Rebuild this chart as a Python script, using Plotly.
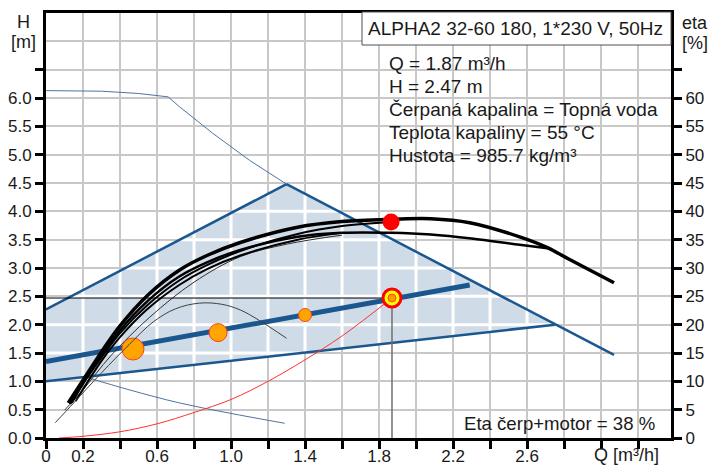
import numpy as np
import plotly.graph_objects as go

# ---------------- data ----------------
# pump curves (Q [m3/h], H [m])
pumpA_q = [0.12, 0.2, 0.3, 0.4, 0.55, 0.72, 0.87, 1.05, 1.36, 1.6, 1.87, 2.08, 2.29, 2.56, 2.71, 2.83, 3.07]
pumpA_h = [0.62, 1.02, 1.52, 1.98, 2.52, 2.96, 3.22, 3.45, 3.72, 3.82, 3.86, 3.87, 3.8, 3.55, 3.36, 3.15, 2.74]
pumpB_q = [0.13, 0.2, 0.3, 0.4, 0.55, 0.72, 0.87, 1.05, 1.36, 1.6, 1.87, 2.08, 2.3, 2.56, 2.71]
pumpB_h = [0.6, 0.98, 1.45, 1.9, 2.42, 2.85, 3.1, 3.32, 3.55, 3.62, 3.62, 3.59, 3.52, 3.41, 3.35]
pumpC_q = [0.14, 0.2, 0.3, 0.4, 0.55, 0.72, 0.87, 1.05, 1.36, 1.6, 1.87]
pumpC_h = [0.62, 0.95, 1.42, 1.85, 2.35, 2.78, 3.05, 3.3, 3.6, 3.74, 3.81]
pumpD_q = [0.16, 0.3, 0.4, 0.55, 0.72, 0.87, 1.05, 1.36, 1.6]
pumpD_h = [0.65, 1.36, 1.78, 2.28, 2.7, 2.98, 3.22, 3.5, 3.62]
pumpE_q = [0.1, 0.2, 0.35, 0.56, 0.8, 1.05, 1.3, 1.6]
pumpE_h = [0.49, 0.85, 1.45, 2.13, 2.75, 3.2, 3.42, 3.58]

# efficiency curve (Q, eta %)
eta_q = [0.05, 0.15, 0.3, 0.45, 0.58, 0.7, 0.83, 0.95, 1.05, 1.15, 1.3]
eta_v = [2.7, 6.2, 11.5, 16.5, 20.5, 22.8, 23.8, 23.6, 22.6, 20.8, 17.6]

# control area (proportional pressure) lines
area_q = [0.0, 0.0, 1.3, 2.75, 0.0]
area_h = [1.0, 2.27, 4.48, 2.0, 1.0]
upper_left_q = [0.0, 1.3]
upper_left_h = [2.27, 4.48]
upper_right_q = [1.3, 3.07]
upper_right_h = [4.48, 1.465]
bottom_q = [0.0, 2.75]
bottom_h = [1.0, 2.0]
middle_q = [0.0, 2.29]
middle_h = [1.35, 2.7]

# thin blue curves
maxp_q = [0.0, 0.3, 0.5, 0.66, 0.72, 0.9, 1.1, 1.3]
maxp_h = [6.13, 6.12, 6.08, 6.02, 5.85, 5.38, 4.9, 4.48]
minp_q = [0.22, 0.45, 0.72, 0.99, 1.29]
minp_h = [1.07, 0.85, 0.62, 0.44, 0.26]

# system curve
sys_q = [0.07, 0.2, 0.4, 0.6, 0.8, 1.0, 1.2, 1.4, 1.6, 1.87]
sys_h = [0.0, 0.03, 0.11, 0.25, 0.45, 0.68, 1.0, 1.38, 1.8, 2.47]

# duty point and markers
duty_q, duty_h = 1.87, 2.47
max_pt_q, max_pt_h = 1.865, 3.81
pp_pts_q = [0.47, 0.93, 1.40]
pp_pts_h = [1.57, 1.86, 2.17]
pp_pts_size = [22, 18, 13]

# ticks
x_tickvals = [round(0.2 * i, 1) for i in range(17)]
x_ticktext = ["0", "0.2", "", "0.6", "", "1.0", "", "1.4", "", "1.8", "", "2.2", "", "2.6", "", "", ""]
y_tickvals = [round(0.5 * i, 1) for i in range(14)]
y_ticktext = [f"{v:.1f}" for v in y_tickvals[:-1]] + [""]
eta_tickvals = [5 * i for i in range(14)]
eta_ticktext = [str(v) for v in eta_tickvals[:-1]] + [""]

info_lines = ["Q = 1.87 m³/h", "H = 2.47 m", "Čerpaná kapalina = Topná voda",
              "Teplota kapaliny = 55 °C", "Hustota = 985.7 kg/m³"]
title_text = "ALPHA2 32-60 180, 1*230 V, 50Hz"
eta_text = "Eta čerp+motor = 38 %"

# ---------------- layout helpers ----------------
# the page body has an 8 px default margin, so the figure is drawn 8 px in from the corner
OFF = 8
W, H = 724 - OFF, 466 - OFF
L, R, T, B = 46, 671, 13, 438          # plot area in window pixels
XMAX, YMAX = 3.378, 7.5


def px(xp):
    return (xp - L) / (R - L)


def py(yp):
    return (B - yp) / (B - T)


FONT = "Liberation Sans, Arial, sans-serif"
BLUE = "#1b578f"
FILL = "#cfdbe7"
GRID = "#c8c8c8"

# white grid segments inside the shaded area
poly = list(zip(area_q[:-1], area_h[:-1]))


def cut(c, vertical):
    vals = []
    n = len(poly)
    for i in range(n):
        (x1, y1), (x2, y2) = poly[i], poly[(i + 1) % n]
        a1, a2, b1, b2 = (x1, x2, y1, y2) if vertical else (y1, y2, x1, x2)
        if a1 != a2 and min(a1, a2) <= c <= max(a1, a2):
            t = (c - a1) / (a2 - a1)
            vals.append(b1 + t * (b2 - b1))
    if len(vals) >= 2:
        return min(vals), max(vals)
    return None


gx, gy = [], []
for c in x_tickvals[1:]:
    r = cut(c, True)
    if r:
        gx += [c, c, None]
        gy += [r[0], r[1], None]
for c in y_tickvals[1:]:
    r = cut(c, False)
    if r:
        gx += [r[0], r[1], None]
        gy += [c, c, None]

fig = go.Figure()
# shaded area
fig.add_trace(go.Scatter(x=area_q, y=area_h, mode="lines", fill="toself", fillcolor=FILL,
                         line=dict(width=0), hoverinfo="skip"))
fig.add_trace(go.Scatter(x=gx, y=gy, mode="lines", line=dict(color="white", width=3), hoverinfo="skip"))

# thin blue curves
fig.add_trace(go.Scatter(x=maxp_q, y=maxp_h, mode="lines", line=dict(color="#4f74a0", width=1)))
fig.add_trace(go.Scatter(x=minp_q, y=minp_h, mode="lines", line=dict(color="#4f74a0", width=1, shape="spline")))

# blue area lines
for qq, hh, w in [(upper_left_q, upper_left_h, 2.5), (upper_right_q, upper_right_h, 2.5),
                  (bottom_q, bottom_h, 2.5), (middle_q, middle_h, 5)]:
    fig.add_trace(go.Scatter(x=qq, y=hh, mode="lines", line=dict(color=BLUE, width=w)))

# system curve
fig.add_trace(go.Scatter(x=sys_q, y=sys_h, mode="lines", line=dict(color="#ff3030", width=1, shape="spline")))

# efficiency curve
fig.add_trace(go.Scatter(x=eta_q, y=eta_v, yaxis="y2", mode="lines",
                         line=dict(color="#404040", width=1, shape="spline")))

# pump curves
fig.add_trace(go.Scatter(x=pumpE_q, y=pumpE_h, mode="lines", line=dict(color="#303030", width=1, shape="spline")))
fig.add_trace(go.Scatter(x=pumpD_q, y=pumpD_h, mode="lines", line=dict(color="black", width=2, shape="spline")))
fig.add_trace(go.Scatter(x=pumpC_q, y=pumpC_h, mode="lines", line=dict(color="black", width=2, shape="spline")))
fig.add_trace(go.Scatter(x=pumpB_q, y=pumpB_h, mode="lines", line=dict(color="black", width=2.5, shape="spline")))
fig.add_trace(go.Scatter(x=pumpA_q, y=pumpA_h, mode="lines", line=dict(color="black", width=3.5, shape="spline")))

# duty point lines
fig.add_trace(go.Scatter(x=[0, duty_q], y=[duty_h, duty_h], mode="lines", line=dict(color="black", width=1)))
fig.add_trace(go.Scatter(x=[duty_q, duty_q], y=[0, duty_h], mode="lines", line=dict(color="#707070", width=1.5)))

# markers
fig.add_trace(go.Scatter(x=pp_pts_q, y=pp_pts_h, mode="markers",
                         marker=dict(size=pp_pts_size, color="#ffa500", opacity=1,
                                     line=dict(color="#ff4020", width=1))))
fig.add_trace(go.Scatter(x=[max_pt_q], y=[max_pt_h], mode="markers",
                         marker=dict(size=17, color="#ff0000", opacity=1, line=dict(width=0))))
fig.add_trace(go.Scatter(x=[duty_q], y=[duty_h], mode="markers",
                         marker=dict(size=18, color="#ffff00", opacity=1, line=dict(color="#ff0000", width=3))))
fig.add_trace(go.Scatter(x=[duty_q], y=[duty_h], mode="markers",
                         marker=dict(size=8, color="#ff9900", opacity=1, line=dict(color="#ff5000", width=1))))

axis_common = dict(showline=True, linewidth=3, linecolor="black", ticks="outside", ticklen=8,
                   tickwidth=3, tickcolor="black", zeroline=False, automargin=False,
                   tickfont=dict(family=FONT, size=17, color="#1a1a1a"))

shapes = [
    # info box background
    dict(type="rect", xref="paper", yref="paper", x0=px(385), x1=px(668), y0=py(170), y1=py(53),
         fillcolor="white", line=dict(width=0), layer="between"),
    # eta box background
    dict(type="rect", xref="paper", yref="paper", x0=px(455), x1=px(669), y0=py(437), y1=py(411.5),
         fillcolor="white", line=dict(width=0), layer="between"),
    # title box
    dict(type="rect", xref="paper", yref="paper", x0=px(362), x1=px(671), y0=py(45), y1=py(12),
         fillcolor="white", line=dict(color="#505050", width=1), layer="above"),
]

annotations = [
    dict(text=title_text, x=px(366), y=py(29), xanchor="left", yanchor="middle"),
    dict(text=eta_text, x=px(462), y=py(423), xanchor="left", yanchor="middle"),
    dict(text="H", x=px(23), y=py(22), xanchor="center", yanchor="middle"),
    dict(text="[m]", x=px(23), y=py(42), xanchor="center", yanchor="middle"),
    dict(text="eta", x=px(695), y=py(23), xanchor="center", yanchor="middle"),
    dict(text="[%]", x=px(695), y=py(43), xanchor="center", yanchor="middle"),
    dict(text="Q [m³/h]", x=px(592), y=py(455), xanchor="left", yanchor="middle"),
]
for i, line in enumerate(info_lines):
    annotations.append(dict(text=line, x=px(387), y=py(63 + 23.2 * i), xanchor="left", yanchor="middle"))
for a in annotations:
    a.update(xref="paper", yref="paper", showarrow=False,
             font=dict(family=FONT, size=19, color="#1a1a1a"))
for a in annotations[2:7]:
    a["font"] = dict(family=FONT, size=18, color="#1a1a1a")
annotations[1]["font"] = dict(family=FONT, size=18.6, color="#1a1a1a")

fig.update_layout(
    width=W, height=H,
    margin=dict(l=L - OFF, r=(W + OFF) - R, t=T - OFF, b=(H + OFF) - B, autoexpand=False),
    paper_bgcolor="white", plot_bgcolor="white",
    showlegend=False,
    xaxis=dict(range=[0, XMAX], tickvals=x_tickvals, ticktext=x_ticktext, mirror=True,
               showgrid=True, gridcolor=GRID, gridwidth=2, **axis_common),
    yaxis=dict(range=[0, YMAX], tickvals=y_tickvals, ticktext=y_ticktext,
               showgrid=True, gridcolor=GRID, gridwidth=2,
               minor=dict(tickvals=[7.0], showgrid=True, gridcolor=GRID, gridwidth=2, ticks=""),
               **axis_common),
    yaxis2=dict(range=[0, 75], tickvals=eta_tickvals, ticktext=eta_ticktext, overlaying="y",
                side="right", showgrid=False, **axis_common),
    shapes=shapes,
    annotations=annotations,
)
try:
    fig.update_xaxes(ticklabelstandoff=-7)
except Exception:
    pass

fig.write_html("out.html")
